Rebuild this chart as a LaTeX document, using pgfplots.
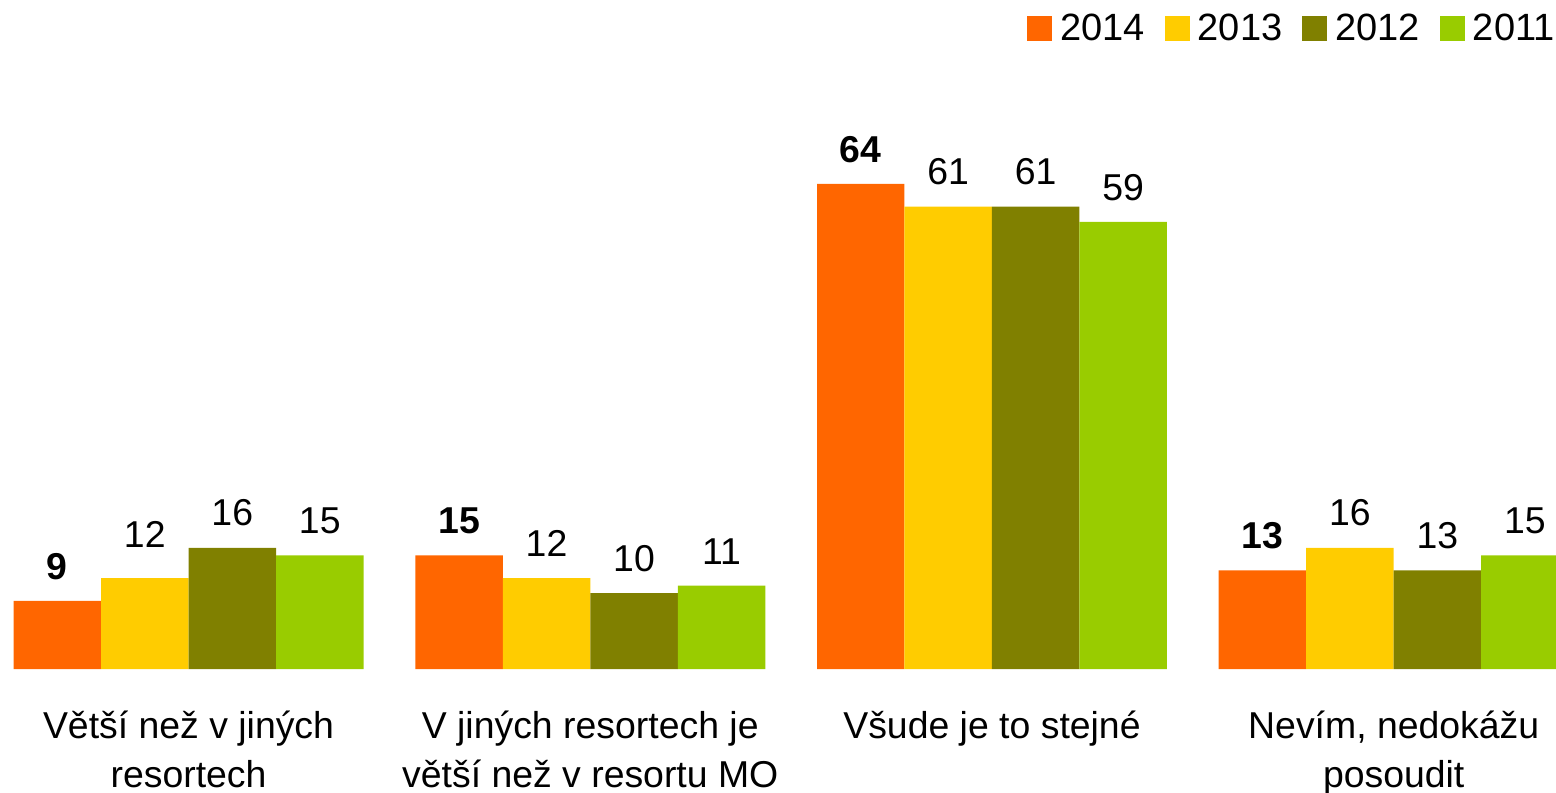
\documentclass[border=0pt]{standalone}
\usepackage{fontspec}
\setmainfont{Liberation Sans}
\usepackage{pgfplots}
\pgfplotsset{compat=1.18}

\definecolor{c2014}{HTML}{FF6600}
\definecolor{c2013}{HTML}{FFCC00}
\definecolor{c2012}{HTML}{808000}
\definecolor{c2011}{HTML}{99CC00}

\begin{document}
\begin{tikzpicture}
\begin{axis}[
    scale only axis,
    width=778pt,
    height=334.5pt,
    xmin=-0.4693, xmax=3.404,
    ymin=0, ymax=88.28,
    ybar=0pt,
    bar width=0.2178,
    axis line style={draw=none},
    ytick=\empty,
    xtick={0,1,2,3},
    xtick style={draw=none},
    xticklabels={{\strut Větší než v jiných\\resortech},
                 {\strut V jiných resortech je\\větší než v resortu MO},
                 {\strut Všude je to stejné},
                 {\strut Nevím, nedokážu\\posoudit}},
    x tick label style={font=\fontsize{18.7}{24.5}\selectfont, align=center,
        anchor=north, inner sep=0pt, yshift=-13pt},
    /pgf/number format/assume math mode=true,
    nodes near coords,
    every node near coord/.append style={font=\fontsize{18.7}{23}\selectfont,
        anchor=south, inner sep=0pt, yshift=10.5pt, text=black},
    legend columns=4,
    legend image code/.code={\fill[#1] (0pt,-6pt) rectangle (12.5pt,6.5pt);},
    legend style={at={(rel axis cs:1,1)}, anchor=north east, draw=none, fill=none,
        font=\fontsize{19}{23}\selectfont, yshift=-3pt, xshift=4.5pt,
        /tikz/every odd column/.append style={column sep=2pt},
        /tikz/every even column/.append style={column sep=8pt}},
]
\addplot[fill=c2014, draw=none,
    every node near coord/.append style={font=\fontsize{18.7}{23}\selectfont\bfseries}]
    coordinates {(0,9) (1,15) (2,64) (3,13)};
\addplot[fill=c2013, draw=none, visualization depends on={\thisrow{dy} \as \dy},
    every node near coord/.append style={yshift=\dy pt}]
    table {
    x y  dy
    0 12 4.5
    1 12 0
    2 61 0
    3 16 0
    };
\addplot[fill=c2012, draw=none] coordinates {(0,16) (1,10) (2,61) (3,13)};
\addplot[fill=c2011, draw=none] coordinates {(0,15) (1,11) (2,59) (3,15)};
\legend{2014,2013,2012,2011}
\end{axis}
\pgfresetboundingbox
\path[use as bounding box] (0,-61.5pt) rectangle (778pt,334.5pt);
\end{tikzpicture}
\end{document}
